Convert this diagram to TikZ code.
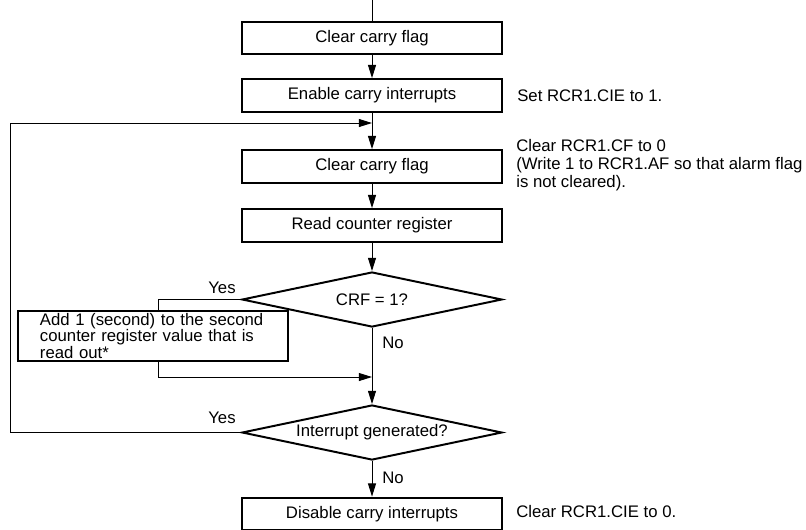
\documentclass[tikz,border=0pt]{standalone}
\usepackage{fontspec}
\setmainfont{Liberation Sans}
\usetikzlibrary{shapes.geometric, arrows.meta}

\begin{document}
\begin{tikzpicture}[x=0.025cm, y=-0.025cm,
    font=\fontsize{11.9}{12.8}\selectfont,
    box/.style={draw, line width=1.4pt, minimum width=6.5cm, minimum height=0.82cm, inner sep=0pt},
    decide/.style={draw, diamond, aspect=4.7, line width=1.4pt, minimum width=6.5cm, minimum height=1.375cm, inner sep=0pt},
    note/.style={anchor=west, align=left, inner sep=0pt},
    flow/.style={line width=0.7pt},
    arr/.style={flow, -{Triangle[length=0.33cm, width=0.2cm]}}]
    \useasboundingbox (0, 0) rectangle (806, 529);

    % main column
    \coordinate (in) at (372, 0);
    \node [box] (clr1) at (372, 38) {Clear carry flag};
    \node [box] (enable) at (372, 95.5) {Enable carry interrupts};
    \coordinate (join) at (372, 123);
    \node [box] (clr2) at (372, 166.5) {Clear carry flag};
    \node [box] (readcnt) at (372, 225.5) {Read counter register};
    \node [decide] (crf) at (372, 299.5) {CRF = 1?};
    \node [decide] (intr) at (372, 432.5) {Interrupt generated?};
    \node [box] (disable) at (372, 514) {Disable carry interrupts};

    % side branch
    \node [box, minimum width=6.75cm, minimum height=1.25cm, text width=5.65cm, align=left,
           font=\fontsize{11.9}{11.7}\selectfont] (addsec) at (153, 336)
      {Add 1 (second) to the second\\counter register value that is\\read out*};
    \coordinate (tap) at (158, 377);
    \coordinate (loopx) at (10, 0);

    \draw [flow] (in) to (clr1);
    \draw [arr] (clr1) to (enable);
    \draw [arr] (enable) to (clr2);
    \draw [arr] (clr2) to (readcnt);
    \draw [arr] (readcnt) to (crf);
    \draw [arr] (crf) to (intr);
    \draw [arr] (intr) to (disable);

    \draw [flow] (crf.west) -| (tap |- addsec.north);
    \draw [arr] (tap |- addsec.south) -- (tap) -- (tap -| crf);
    \draw [arr] (intr.west) -| (loopx |- join) -- (join);

    \node (yes1) at (222, 288) {Yes};
    \node (no1) at (393, 343) {No};
    \node (yes2) at (222, 418) {Yes};
    \node (no2) at (393, 478) {No};

    % register notes
    \node [note] (setcie) at (517, 95.5) {Set RCR1.CIE to 1.};
    \node [note] (clrcf) at (516, 165) {Clear RCR1.CF to 0\\(Write 1 to RCR1.AF so that alarm flag\\is not cleared).};
    \node [note] (clrcie) at (516, 512) {Clear RCR1.CIE to 0.};

  \end{tikzpicture}
\end{document}
